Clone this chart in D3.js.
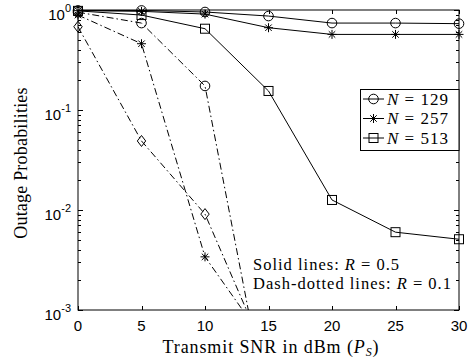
<!DOCTYPE html>
<html>
<head>
<meta charset="utf-8">
<script src="https://cdn.jsdelivr.net/npm/d3@7"></script>
<style>
  body { margin: 0; background: #fff; }
  svg { display: block; }
</style>
</head>
<body>
<div id="chart"></div>
<script>
// data
const snr = [0, 5, 10, 15, 20, 25, 30];
const solid129 = [0.99, 0.99, 0.955, 0.87, 0.74, 0.74, 0.73];
const solid257 = [0.985, 0.97, 0.91, 0.665, 0.57, 0.57, 0.57];
const solid513 = [0.98, 0.89, 0.65, 0.155, 0.0126, 0.006, 0.0051];
const snrLow = [0, 5, 10, 15];
const dash129 = [0.95, 0.74, 0.174, 0.00009];
const dash257 = [0.89, 0.46, 0.0034, 0.00043];
const dashDiamond = [0.68, 0.049, 0.0091, 0.00031];
const xTicks = [0, 5, 10, 15, 20, 25, 30];
const yTicks = [0, -1, -2, -3];
const legendLabels = ["129", "257", "513"];

const W = 474, H = 364;
const margin = {top: 10, right: 15, bottom: 54, left: 78};
const serif = "Liberation Serif, Times New Roman, serif";

const svg = d3.select("#chart").append("svg")
    .attr("width", W)
    .attr("height", H);

const x = d3.scaleLinear().domain([0, 30]).range([margin.left, W - margin.right]);
const y = d3.scaleLog().domain([1e-3, 1]).range([H - margin.bottom, margin.top]);

const x0 = x.range()[0], x1 = x.range()[1];
const y0 = y.range()[0], y1 = y.range()[1];

svg.append("clipPath").attr("id", "plot")
    .append("rect")
    .attr("x", x0).attr("y", y1)
    .attr("width", x1 - x0).attr("height", y0 - y1);

// ticks (inward, on both sides)
const minor = [];
for (let e = -3; e < 0; e++) {
    for (let k = 2; k <= 9; k++) minor.push(k * Math.pow(10, e));
}
const tickG = svg.append("g").attr("stroke", "#000").attr("stroke-width", 1);
minor.forEach(function (v) {
    const yy = Math.round(y(v)) + 0.5;
    tickG.append("line").attr("x1", x0).attr("x2", x0 + 3).attr("y1", yy).attr("y2", yy);
    tickG.append("line").attr("x1", x1).attr("x2", x1 - 3).attr("y1", yy).attr("y2", yy);
});
yTicks.forEach(function (e) {
    const yy = Math.round(y(Math.pow(10, e))) + 0.5;
    tickG.append("line").attr("x1", x0).attr("x2", x0 + 5).attr("y1", yy).attr("y2", yy);
    tickG.append("line").attr("x1", x1).attr("x2", x1 - 5).attr("y1", yy).attr("y2", yy);
});
xTicks.forEach(function (v) {
    const xx = Math.round(x(v)) + 0.5;
    tickG.append("line").attr("x1", xx).attr("x2", xx).attr("y1", y0).attr("y2", y0 - 4);
    tickG.append("line").attr("x1", xx).attr("x2", xx).attr("y1", y1).attr("y2", y1 + 4);
});

// box
svg.append("rect")
    .attr("x", x0).attr("y", y1)
    .attr("width", x1 - x0).attr("height", y0 - y1)
    .attr("fill", "none").attr("stroke", "#000").attr("stroke-width", 1);

// tick labels
svg.append("g").selectAll("text")
    .data(xTicks)
    .enter().append("text")
    .attr("x", d => x(d))
    .attr("y", y0 + 21)
    .attr("text-anchor", "middle")
    .attr("font-family", "Liberation Sans, Arial, sans-serif")
    .attr("font-size", 15)
    .text(d => d);

const yl = svg.append("g").selectAll("text")
    .data(yTicks)
    .enter().append("text")
    .attr("x", 71)
    .attr("y", d => y(Math.pow(10, d)) + 10)
    .attr("text-anchor", "end")
    .attr("font-family", "Liberation Sans, Arial, sans-serif")
    .attr("font-size", 15);
yl.append("tspan").text("10");
yl.append("tspan").attr("dy", -8).attr("font-size", 11).text(d => d === 0 ? "0" : "-" + Math.abs(d));

// series
const line = d3.line()
    .x(d => x(d[0]))
    .y(d => y(d[1]));

const series = [
    {xs: snr, ys: solid129, dash: null, marker: "circle"},
    {xs: snr, ys: solid257, dash: null, marker: "star"},
    {xs: snr, ys: solid513, dash: null, marker: "square"},
    {xs: snrLow, ys: dash129, dash: "7,3,1.5,3", marker: "circle"},
    {xs: snrLow, ys: dash257, dash: "7,3,1.5,3", marker: "star"},
    {xs: snrLow, ys: dashDiamond, dash: "7,3,1.5,3", marker: "diamond"}
];

function drawMarker(g, type, cx, cy) {
    if (type === "circle") {
        g.append("circle").attr("cx", cx).attr("cy", cy).attr("r", 4.8);
    } else if (type === "square") {
        g.append("rect").attr("x", cx - 4.5).attr("y", cy - 4.5).attr("width", 9).attr("height", 9);
    } else if (type === "diamond") {
        g.append("path").attr("d", "M" + cx + "," + (cy - 5.5) + "L" + (cx + 4.2) + "," + cy +
            "L" + cx + "," + (cy + 5.5) + "L" + (cx - 4.2) + "," + cy + "Z");
    } else if (type === "star") {
        const r = 4.5;
        let d = "M" + (cx - r) + "," + cy + "L" + (cx + r) + "," + cy +
            "M" + cx + "," + (cy - r) + "L" + cx + "," + (cy + r);
        const q = r * 0.72;
        d += "M" + (cx - q) + "," + (cy - q) + "L" + (cx + q) + "," + (cy + q) +
            "M" + (cx - q) + "," + (cy + q) + "L" + (cx + q) + "," + (cy - q);
        g.append("path").attr("d", d);
    }
}

const plotG = svg.append("g");
series.forEach(function (s) {
    const pts = s.xs.map((v, i) => [v, s.ys[i]]);
    plotG.append("path")
        .attr("clip-path", "url(#plot)")
        .attr("d", line(pts))
        .attr("fill", "none")
        .attr("stroke", "#000")
        .attr("stroke-width", 1)
        .attr("stroke-dasharray", s.dash);
    const mg = plotG.append("g").attr("fill", "none").attr("stroke", "#000").attr("stroke-width", 1);
    pts.filter(p => p[1] >= 1e-3).forEach(p => drawMarker(mg, s.marker, x(p[0]), y(p[1])));
});

// legend
const lg = svg.append("g");
lg.append("rect")
    .attr("x", 360.5).attr("y", 89.5)
    .attr("width", x1 - 360.5).attr("height", 61)
    .attr("fill", "#fff").attr("stroke", "#000").attr("stroke-width", 1);
["circle", "star", "square"].forEach(function (m, i) {
    const ly = 99 + i * 19.5;
    lg.append("line").attr("x1", 363).attr("x2", 384).attr("y1", ly).attr("y2", ly)
        .attr("stroke", "#000").attr("stroke-width", 1);
    const mg = lg.append("g").attr("fill", "none").attr("stroke", "#000");
    drawMarker(mg, m, 373.5, ly);
    const t = lg.append("text")
        .attr("x", 387).attr("y", ly + 5.5)
        .attr("font-family", serif)
        .attr("font-size", 17)
        .attr("letter-spacing", 1);
    t.append("tspan").attr("font-style", "italic").text("N");
    t.append("tspan").text(" = " + legendLabels[i]);
});

// annotation
const ann = svg.append("g")
    .attr("font-family", serif)
    .attr("font-size", 16.5)
    .attr("letter-spacing", 1);
const a1 = ann.append("text").attr("x", 253).attr("y", 270);
a1.append("tspan").text("Solid lines:  ");
a1.append("tspan").attr("font-style", "italic").text("R");
a1.append("tspan").text(" = 0.5");
const a2 = ann.append("text").attr("x", 253).attr("y", 289);
a2.append("tspan").text("Dash-dotted lines:  ");
a2.append("tspan").attr("font-style", "italic").text("R");
a2.append("tspan").text(" = 0.1");

// axis titles
const xt = svg.append("text")
    .attr("x", 271).attr("y", 353)
    .attr("text-anchor", "middle")
    .attr("font-family", serif)
    .attr("font-size", 18)
    .attr("letter-spacing", 0.9);
xt.append("tspan").text("Transmit SNR in dBm (");
xt.append("tspan").attr("font-style", "italic").text("P");
xt.append("tspan").attr("font-style", "italic").attr("font-size", 12).attr("dy", 3).text("S");
xt.append("tspan").attr("dy", -3).text(")");

svg.append("text")
    .attr("transform", "translate(27," + 163 + ") rotate(-90)")
    .attr("text-anchor", "middle")
    .attr("font-family", serif)
    .attr("font-size", 18)
    .attr("letter-spacing", 0.2)
    .text("Outage Probabilities");
</script>
</body>
</html>
